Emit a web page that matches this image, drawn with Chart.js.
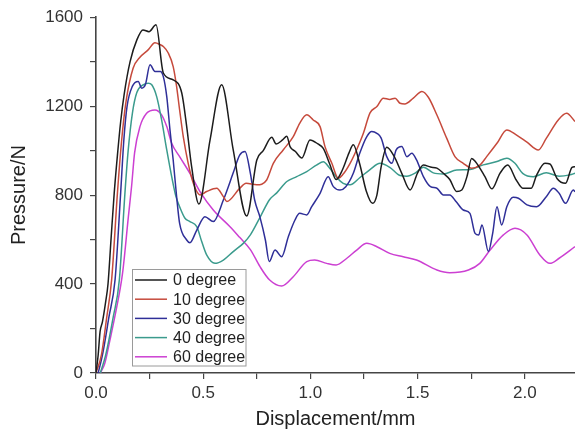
<!DOCTYPE html>
<html>
<head>
<meta charset="utf-8">
<script src="https://cdn.jsdelivr.net/npm/chart.js@4"></script>
<style>
  html, body { margin: 0; padding: 0; background: #fff; }
  #wrap { width: 575px; height: 434px; }
</style>
</head>
<body>
<div id="wrap"><canvas id="lineChart" width="575" height="434"></canvas></div>
<script>
// series names
const seriesNames = ['0 degree', '10 degree', '30 degree', '40 degree', '60 degree'];
const seriesColors = ['#1c1c1c', '#c64a3c', '#2f2f98', '#3b9b8d', '#cc40d2'];

// axis ticks
const xMajorTicks = [0, 0.5, 1.0, 1.5, 2.0];
const yMajorTicks = [0, 400, 800, 1200, 1600];
const xMax = 2.234;

// 0 degree
const deg0X = [0, 0.01, 0.019, 0.03, 0.045, 0.056, 0.07, 0.085, 0.1, 0.115, 0.131, 0.159, 0.191, 0.219, 0.247, 0.28,
  0.314, 0.36, 0.40, 0.423, 0.446, 0.48, 0.532, 0.586, 0.64, 0.703, 0.75, 0.78, 0.82, 0.84, 0.87, 0.89, 0.905, 0.93,
  0.96, 0.998, 1.035, 1.06, 1.09, 1.12, 1.15, 1.18, 1.2, 1.23, 1.26, 1.29, 1.31, 1.33, 1.356, 1.39, 1.426, 1.465,
  1.50, 1.527, 1.56, 1.59, 1.62, 1.65, 1.682, 1.706, 1.73, 1.752, 1.77, 1.814, 1.846, 1.884, 1.92, 1.96, 1.99, 2.03,
  2.055, 2.094, 2.117, 2.15, 2.19, 2.22, 2.234];
const deg0Y = [0, 80, 186, 230, 320, 400, 600, 810, 980, 1130, 1251, 1400, 1499, 1543, 1535, 1566,
  1349, 1318, 1259, 1108, 928, 760, 1048, 1296, 1003, 706, 958, 1000, 1060, 1030, 1048, 1065, 1018, 996,
  967, 1048, 1030, 1010, 940, 870, 915, 990, 1026, 940, 820, 763, 800, 928, 1015, 975, 898, 823,
  900, 935, 926, 921, 898, 870, 816, 823, 883, 965, 950, 883, 828, 898, 935, 868, 831, 831,
  890, 943, 940, 875, 853, 925, 928];

// 10 degree
const deg10X = [0, 0.025, 0.05, 0.073, 0.1, 0.12, 0.14, 0.173, 0.205, 0.243, 0.275, 0.3, 0.314, 0.337, 0.36, 0.376,
  0.39, 0.407, 0.43, 0.454, 0.485, 0.516, 0.563, 0.594, 0.61, 0.67, 0.70, 0.75, 0.796, 0.827, 0.873, 0.92, 0.95,
  0.983, 1.013, 1.045, 1.068, 1.1, 1.13, 1.15, 1.185, 1.215, 1.247, 1.278, 1.31, 1.34, 1.37, 1.395, 1.418, 1.44,
  1.48, 1.52, 1.55, 1.59, 1.636, 1.674, 1.713, 1.752, 1.79, 1.822, 1.87, 1.916, 1.96, 2.01, 2.063, 2.1, 2.156,
  2.195, 2.234];
const deg10Y = [0, 80, 250, 420, 810, 1050, 1220, 1370, 1420, 1453, 1485, 1476, 1468, 1439, 1378, 1288,
  1183, 1063, 943, 853, 801, 816, 831, 793, 771, 830, 853, 846, 868, 943, 1003, 1063, 1123,
  1161, 1138, 1108, 1018, 943, 876, 891, 943, 1003, 1078, 1170, 1198, 1236, 1230, 1236, 1213, 1210,
  1236, 1266, 1240, 1160, 1055, 973, 943, 921, 935, 973, 1033, 1093, 1071, 1038, 1003, 1055, 1138,
  1168, 1131];

// 30 degree
const deg30X = [0.01, 0.03, 0.06, 0.089, 0.115, 0.13, 0.145, 0.17, 0.197, 0.213, 0.23, 0.252, 0.275, 0.30, 0.314,
  0.33, 0.345, 0.36, 0.376, 0.39, 0.423, 0.438, 0.47, 0.508, 0.547, 0.594, 0.64, 0.67, 0.695, 0.72, 0.74, 0.765,
  0.79, 0.808, 0.835, 0.866, 0.897, 0.928, 0.95, 0.983, 1.006, 1.045, 1.083, 1.107, 1.138, 1.165, 1.2, 1.23, 1.263,
  1.286, 1.31, 1.33, 1.356, 1.38, 1.4, 1.426, 1.45, 1.473, 1.495, 1.527, 1.56, 1.59, 1.62, 1.65, 1.68, 1.713, 1.744,
  1.768, 1.785, 1.8, 1.83, 1.85, 1.87, 1.892, 1.916, 1.946, 1.97, 2.01, 2.055, 2.1, 2.133, 2.16, 2.19, 2.226, 2.234];
const deg30Y = [0, 80, 250, 420, 810, 1050, 1200, 1290, 1311, 1281, 1296, 1386, 1356, 1356, 1333,
  1243, 1093, 958, 793, 673, 598, 586, 643, 703, 681, 778, 900, 980, 996, 898, 778, 700,
  598, 501, 553, 523, 613, 688, 718, 711, 748, 808, 883, 838, 823, 838, 898, 988, 1063,
  1086, 1078, 1056, 973, 943, 1003, 1018, 973, 988, 958, 883, 838, 831, 801, 801, 770, 733, 718,
  628, 621, 666, 546, 628, 748, 666, 748, 790, 786, 756, 748, 793, 831, 808, 763, 823, 815];

// 40 degree
const deg40X = [0.02, 0.045, 0.08, 0.109, 0.135, 0.15, 0.17, 0.19, 0.22, 0.244, 0.26, 0.283, 0.306, 0.33, 0.353,
  0.373, 0.39, 0.415, 0.438, 0.47, 0.493, 0.516, 0.555, 0.594, 0.64, 0.687, 0.72, 0.765, 0.81, 0.843, 0.89, 0.936,
  0.983, 1.03, 1.06, 1.09, 1.12, 1.153, 1.185, 1.23, 1.278, 1.325, 1.37, 1.418, 1.45, 1.49, 1.527, 1.573, 1.62,
  1.682, 1.744, 1.806, 1.87, 1.916, 1.954, 1.99, 2.04, 2.1, 2.16, 2.21, 2.234];
const deg40Y = [0, 80, 250, 420, 810, 1000, 1170, 1260, 1296, 1303, 1296, 1243, 1138, 1003, 883,
  793, 748, 696, 681, 658, 591, 531, 493, 508, 546, 583, 621, 700, 780, 810, 861, 883,
  906, 936, 950, 921, 883, 853, 846, 878, 915, 943, 925, 888, 885, 900, 925, 900, 895,
  913, 915, 936, 951, 966, 943, 898, 883, 900, 885, 891, 898];

// 60 degree
const deg60X = [0.02, 0.04, 0.065, 0.097, 0.124, 0.151, 0.166, 0.18, 0.205, 0.236, 0.275, 0.306, 0.33, 0.353, 0.39,
  0.438, 0.485, 0.547, 0.625, 0.67, 0.72, 0.765, 0.81, 0.866, 0.92, 0.983, 1.02, 1.076, 1.12, 1.17, 1.216, 1.263,
  1.31, 1.37, 1.433, 1.495, 1.59, 1.65, 1.737, 1.79, 1.838, 1.9, 1.954, 2.01, 2.07, 2.117, 2.16, 2.234];
const deg60Y = [0, 40, 148, 298, 450, 703, 840, 990, 1108, 1168, 1183, 1161, 1108, 1033, 973,
  898, 816, 733, 658, 610, 555, 478, 418, 391, 433, 501, 508, 493, 486, 516, 553, 583,
  568, 538, 523, 508, 463, 451, 463, 493, 553, 621, 651, 621, 531, 493, 516, 568];

const seriesX = [deg0X, deg10X, deg30X, deg40X, deg60X];
const seriesY = [deg0Y, deg10Y, deg30Y, deg40Y, deg60Y];

const AXIS = '#454545';
const FONT = "'Liberation Sans', Arial, sans-serif";

// legend drawn inside the plot, lower left
const insideLegend = {
  id: 'insideLegend',
  afterDatasetsDraw(chart) {
    const ctx = chart.ctx;
    const box = { x: 132.5, y: 269.5, w: 113.5, h: 96.5 };
    ctx.save();
    ctx.fillStyle = '#fff';
    ctx.fillRect(box.x, box.y, box.w, box.h);
    ctx.strokeStyle = '#9a9a9a';
    ctx.lineWidth = 1;
    ctx.strokeRect(box.x, box.y, box.w, box.h);
    ctx.font = '16px ' + FONT;
    ctx.textBaseline = 'middle';
    chart.data.datasets.forEach((ds, i) => {
      const yy = 280 + i * 19.2;
      ctx.strokeStyle = ds.borderColor;
      ctx.lineWidth = 1.5;
      ctx.beginPath();
      ctx.moveTo(135, yy);
      ctx.lineTo(167, yy);
      ctx.stroke();
      ctx.fillStyle = '#222';
      ctx.fillText(ds.label, 173, yy + 1);
    });
    ctx.restore();
  }
};

const ctx = document.getElementById('lineChart').getContext('2d');
const lineChart = new Chart(ctx, {
  type: 'line',
  data: {
    datasets: seriesNames.map((name, i) => ({
      label: name,
      data: seriesX[i].map((x, j) => ({ x: x, y: seriesY[i][j] })),
      borderColor: seriesColors[i],
      borderWidth: 1.5,
      pointRadius: 0,
      fill: false,
      cubicInterpolationMode: 'monotone'
    }))
  },
  options: {
    responsive: false,
    animation: false,
    devicePixelRatio: 1,
    layout: { padding: { top: 17, right: 0, left: 0, bottom: 0 } },
    plugins: {
      legend: { display: false },
      tooltip: { enabled: false }
    },
    scales: {
      x: {
        type: 'linear',
        min: 0,
        max: xMax,
        afterFit: s => { s.height = 61; },
        afterBuildTicks: s => {
          const t = [];
          for (let i = 0; i < xMajorTicks.length; i++) {
            t.push({ value: xMajorTicks[i] });
            if (i < xMajorTicks.length - 1) t.push({ value: (xMajorTicks[i] + xMajorTicks[i + 1]) / 2 });
          }
          s.ticks = t;
        },
        ticks: {
          color: '#333',
          padding: 4,
          maxRotation: 0,
          autoSkip: false,
          font: { family: FONT, size: 17 },
          callback: v => xMajorTicks.includes(v) ? v.toFixed(1) : ''
        },
        grid: { drawOnChartArea: false, drawTicks: true, tickLength: 6, color: AXIS, lineWidth: 1.2 },
        border: { display: true, color: AXIS, width: 1.6 },
        title: {
          display: true,
          text: 'Displacement/mm',
          color: '#222',
          font: { family: FONT, size: 20 },
          padding: { top: 0, bottom: 3 }
        }
      },
      y: {
        min: 0,
        max: 1600,
        afterFit: s => { s.width = 96; },
        afterBuildTicks: s => {
          const t = [];
          for (let i = 0; i < yMajorTicks.length; i++) {
            t.push({ value: yMajorTicks[i] });
            if (i < yMajorTicks.length - 1) t.push({ value: (yMajorTicks[i] + yMajorTicks[i + 1]) / 2 });
          }
          s.ticks = t;
        },
        ticks: {
          color: '#333',
          padding: 7,
          autoSkip: false,
          font: { family: FONT, size: 17 },
          callback: v => yMajorTicks.includes(v) ? String(v) : ''
        },
        grid: { drawOnChartArea: false, drawTicks: true, tickLength: 6, color: AXIS, lineWidth: 1.2 },
        border: { display: true, color: AXIS, width: 1.6 },
        title: {
          display: true,
          text: 'Pressure/N',
          color: '#222',
          font: { family: FONT, size: 20 },
          padding: { top: 7, bottom: 0 }
        }
      }
    }
  },
  plugins: [insideLegend]
});
</script>
</body>
</html>
